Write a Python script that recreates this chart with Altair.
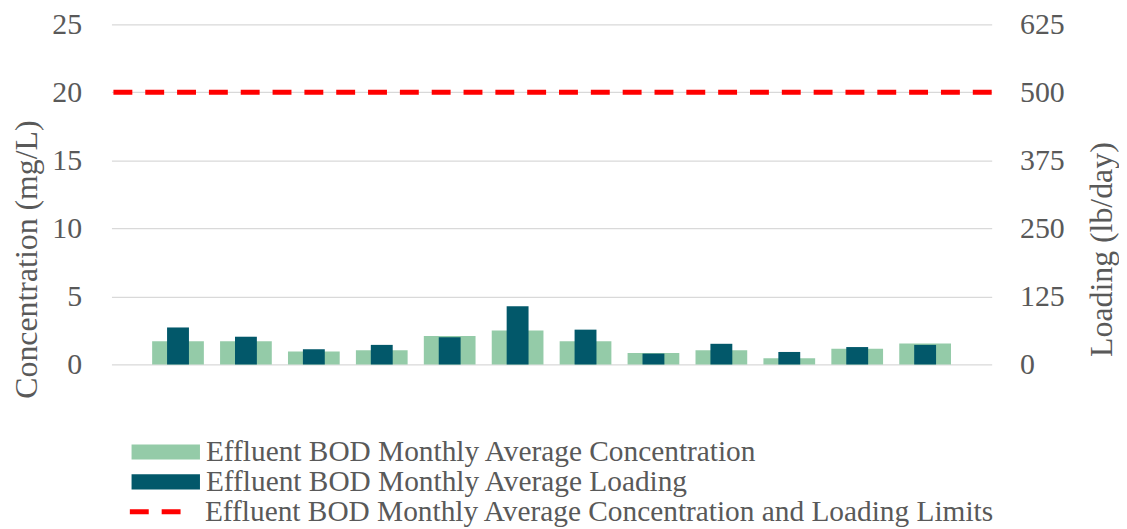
import altair as alt
import pandas as pd

# ---- data ----
months = ["Jan", "Feb", "Mar", "Apr", "May", "Jun", "Jul", "Aug", "Sep", "Oct", "Nov", "Dec"]
concentration = [1.7, 1.7, 0.95, 1.05, 2.1, 2.5, 1.7, 0.85, 1.05, 0.45, 1.15, 1.55]   # mg/L
loading = [68, 51, 28, 36, 50, 107, 64, 20, 38, 23, 32, 36]                          # lb/day
conc_limit = 20
load_limit = 500
series_names = [
    "Effluent BOD Monthly Average Concentration",
    "Effluent BOD Monthly Average Loading",
    "Effluent BOD Monthly Average Concentration and Loading Limits",
]
left_ticks = [0, 5, 10, 15, 20, 25]
right_ticks = [0, 125, 250, 375, 500, 625]

df = pd.DataFrame({"month": months, "conc": concentration, "load": loading})
df["conc_series"] = series_names[0]
df["load_series"] = series_names[1]
lim = pd.DataFrame({"conc_limit": [conc_limit], "load_limit": [load_limit],
                    "series": [series_names[2]]})

FONT = "'Liberation Serif', 'Times New Roman', 'DejaVu Serif', serif"
GRAY = "#595959"
GREEN = "#94CBA8"
TEAL = "#02586A"
RED = "#FF0000"
RECT = "M-1,-0.22L1,-0.22L1,0.22L-1,0.22Z"

W, H = 885, 342
PAD = {"left": 104, "top": 15, "right": 128, "bottom": 163}

x_enc = alt.X("month:N", sort=months, axis=None,
              scale=alt.Scale(paddingInner=0, paddingOuter=0.48))

leg_common = dict(orient="none", labelFont=FONT, labelFontSize=29.5, labelColor=GRAY,
                  labelLimit=0, padding=0, clipHeight=16, symbolOffset=0)

green = alt.Chart(df).mark_bar(size=52, color=GREEN).encode(
    x=x_enc,
    y=alt.Y("conc:Q", scale=alt.Scale(domain=[0, 25], nice=False),
            axis=alt.Axis(orient="left", values=left_ticks, title="Concentration (mg/L)",
                          grid=True, gridColor="#D9D9D9", gridWidth=1.3,
                          domain=False, ticks=False, tickSize=0, labelPadding=30,
                          labelFont=FONT, labelFontSize=30, labelColor=GRAY,
                          titleFont=FONT, titleFontSize=32, titleColor=GRAY,
                          titleFontWeight="normal", titleAngle=270, titleAlign="center",
                          titleBaseline="middle", titleX=-85, titleY=236)),
    color=alt.Color("conc_series:N", title=None,
                    scale=alt.Scale(range=[GREEN]),
                    legend=alt.Legend(legendX=20, legendY=422, symbolType=RECT,
                                      symbolSize=4761, symbolStrokeWidth=0,
                                      symbolOpacity=1, labelOffset=6, **leg_common)),
)

teal = alt.Chart(df).mark_bar(size=22, color=TEAL).encode(
    x=x_enc,
    y=alt.Y("load:Q", scale=alt.Scale(domain=[0, 625], nice=False),
            axis=alt.Axis(orient="right", values=right_ticks, title="Loading (lb/day)",
                          grid=False, domain=False, ticks=False, tickSize=0, labelPadding=28,
                          labelFont=FONT, labelFontSize=30, labelColor=GRAY,
                          titleFont=FONT, titleFontSize=32, titleColor=GRAY,
                          titleFontWeight="normal", titleAngle=270, titleAlign="center",
                          titleBaseline="middle", titleX=110, titleY=226)),
    color=alt.Color("load_series:N", title=None,
                    scale=alt.Scale(range=[TEAL]),
                    legend=alt.Legend(legendX=20, legendY=452, symbolType=RECT,
                                      symbolSize=4761, symbolStrokeWidth=0,
                                      symbolOpacity=1, labelOffset=6, **leg_common)),
)

limit = alt.Chart(lim).mark_rule(color=RED, strokeWidth=5).encode(
    y=alt.Y("conc_limit:Q", scale=alt.Scale(domain=[0, 25], nice=False), axis=None),
    strokeDash=alt.StrokeDash("series:N", title=None,
                              scale=alt.Scale(range=[[19, 13]]),
                              legend=alt.Legend(legendX=16, legendY=482, symbolType="stroke",
                                                symbolSize=2601, symbolStrokeWidth=5,
                                                symbolStrokeColor=RED, labelOffset=22,
                                                **leg_common)),
)

chart = alt.layer(green, teal, limit).resolve_scale(
    y="independent", color="independent", strokeDash="independent"
).properties(
    width=W, height=H, padding=PAD,
    autosize=alt.AutoSizeParams(type="none"),
).configure_view(stroke=None)

chart.save("out.html", embed_options={"renderer": "svg", "actions": False})
